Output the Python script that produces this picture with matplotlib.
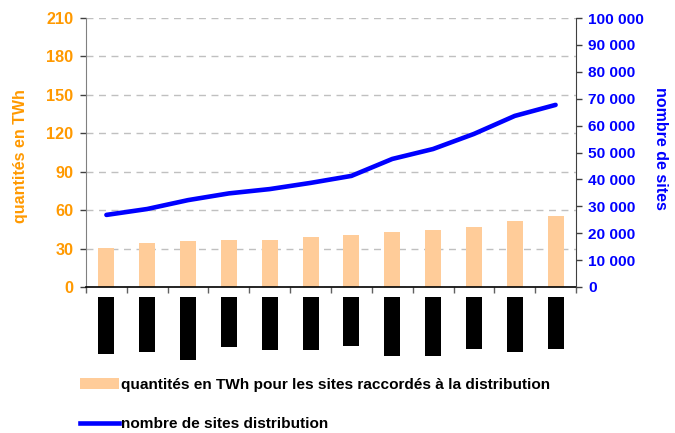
import matplotlib
matplotlib.use("Agg")
import matplotlib.pyplot as plt
from matplotlib.ticker import FixedLocator, FuncFormatter
from matplotlib.patches import Patch
from matplotlib.lines import Line2D
import numpy as np

plt.rcParams['font.family'] = ['Liberation Sans', 'DejaVu Sans']

# ---- data ----
categories = list(range(12))  # category labels are masked (black boxes) in the source
twh_values = [30.5, 34.3, 35.9, 36.7, 36.7, 38.9, 40.6, 42.9, 44.5, 46.8, 51.5, 55.4]
site_counts = [26800, 29000, 32300, 34800, 36400, 38700, 41300, 47600, 51300, 56900, 63600, 67700]
mask_lengths = [57, 55, 63, 50, 53, 53, 49, 59, 59, 52, 55, 52]
left_ticks = [0, 30, 60, 90, 120, 150, 180, 210]
right_ticks = [0, 10000, 20000, 30000, 40000, 50000, 60000, 70000, 80000, 90000, 100000]
bar_label = "quantités en TWh pour les sites raccordés à la distribution"
line_label = "nombre de sites distribution"
left_title = "quantités en TWh"
right_title = "nombre de sites"

ORANGE = '#FF9900'
BLUE = '#0000FF'
BAR = '#FFCC99'

W, H = 675, 433
fig = plt.figure(figsize=(W / 100, H / 100), dpi=100)

def fx(px):
    return px / W

def fy(py):
    return 1 - py / H

ax = fig.add_axes([fx(86), fy(287), fx(576) - fx(86), fy(18) - fy(287)])
x = np.arange(len(categories))
ax.bar(x, twh_values, width=0.39, color=BAR, zorder=2)
ax.set_xlim(-0.5, len(categories) - 0.5)
ax.set_ylim(0, 210)
ax.yaxis.set_major_locator(FixedLocator(left_ticks))
ax.grid(axis='y', color='#C0C0C0', linestyle=(0, (5, 4)), linewidth=1, zorder=0)
ax.set_axisbelow(True)
ax.tick_params(axis='y', colors='#404040', length=4, width=1, pad=5,
               labelcolor=ORANGE, labelsize=11.7)
for t in ax.get_yticklabels():
    t.set_fontweight('bold')
ax.set_xticks([])
ax.xaxis.set_minor_locator(FixedLocator(np.arange(-0.5, len(categories), 1.0)))
ax.tick_params(axis='x', which='minor', direction='out', length=4, width=1, color='#606060')
ax.spines['top'].set_visible(False)
ax.spines['left'].set_color('#808080')
ax.spines['right'].set_visible(False)
ax.spines['bottom'].set_color('black')
ax.spines['bottom'].set_linewidth(1.2)

ax2 = ax.twinx()
ax2.plot(x, site_counts, color=BLUE, linewidth=3.3, solid_capstyle='round', zorder=3)
ax2.set_ylim(0, 100000)
ax2.yaxis.set_major_locator(FixedLocator(right_ticks))
ax2.yaxis.set_major_formatter(FuncFormatter(lambda v, p: f"{int(v):,}".replace(",", " ")))
ax2.tick_params(axis='y', colors='#404040', length=4, width=1, pad=5,
                labelcolor=BLUE, labelsize=11.1)
for t in ax2.get_yticklabels():
    t.set_fontweight('bold')
for s in ['top', 'left', 'bottom']:
    ax2.spines[s].set_visible(False)
ax2.spines['right'].set_color('#404040')

fig.text(fx(21), fy(156), left_title, color=ORANGE, fontsize=11.5, fontweight='bold',
         rotation=90, ha='center', va='center')
fig.text(fx(660), fy(148), right_title, color=BLUE, fontsize=11.5, fontweight='bold',
         rotation=-90, ha='center', va='center')

# masked category labels (black boxes under the axis)
axm = fig.add_axes([fx(86), fy(367), fx(576) - fx(86), fy(297) - fy(367)])
axm.bar(x, mask_lengths, width=0.39, color='black')
axm.set_xlim(-0.5, len(categories) - 0.5)
axm.set_ylim(70, 0)
axm.axis('off')

handles = [Patch(facecolor=BAR, edgecolor='none'),
           Line2D([0], [0], color=BLUE, linewidth=3.3)]
fig.legend(handles, [bar_label, line_label], loc='upper left',
           bbox_to_anchor=(fx(80), fy(378)), frameon=False,
           prop={'weight': 'bold', 'size': 11.1}, handlelength=2.55,
           handleheight=0.75, handletextpad=0.1, labelspacing=1.62, borderpad=0,
           borderaxespad=0)

fig.savefig("out.png", dpi=100)
